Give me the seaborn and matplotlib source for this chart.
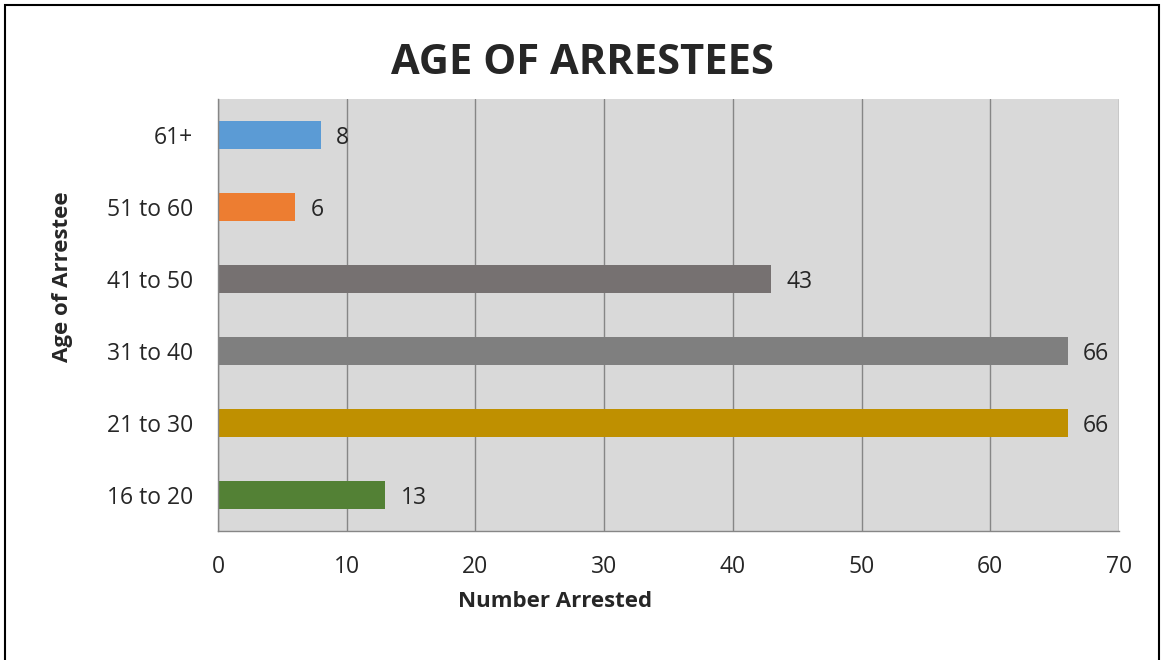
import numpy as np
import pandas as pd
import seaborn as sns
import matplotlib.pyplot as plt
from matplotlib.patches import Rectangle

# Data (top to bottom as shown)
age_groups = ["61+", "51 to 60", "41 to 50", "31 to 40", "21 to 30", "16 to 20"]
arrested = [8, 6, 43, 66, 66, 13]
bar_colors = ["#5B9BD5", "#ED7D31", "#767171", "#7F7F7F", "#BF9000", "#538135"]

df = pd.DataFrame({"age": age_groups, "count": arrested})

sns.set_style("white")
plt.rcParams["font.family"] = ["Open Sans", "DejaVu Sans"]

fig = plt.figure(figsize=(11.64, 6.6), dpi=100)
ax = fig.add_axes([218 / 1164, 1 - 531 / 660, (1119 - 218) / 1164, (531 - 99) / 660])

sns.barplot(
    data=df, x="count", y="age", hue="age", order=age_groups,
    palette=dict(zip(age_groups, bar_colors)), width=0.4,
    legend=False, ax=ax, orient="h", saturation=1, linewidth=0,
)

ax.set_facecolor("#D9D9D9")
ax.set_xlim(0, 70)
ax.set_ylim(len(age_groups) - 0.5, -0.5)
ax.set_xticks(np.arange(0, 71, 10))
ax.xaxis.grid(True, color="#868686", linewidth=1)
ax.set_axisbelow(True)

# tick marks at category boundaries on y
ax.set_yticks(np.arange(len(age_groups)))
ax.set_yticklabels(age_groups)
ax.set_yticks(np.arange(-0.5, len(age_groups), 1), minor=True)
ax.tick_params(axis="y", which="major", length=0, pad=18, labelsize=16.5, labelcolor="#262626")
ax.tick_params(axis="y", which="minor", length=10, width=1, color="#868686", direction="out")
ax.tick_params(axis="x", length=10, width=1, color="#868686", direction="out",
               pad=7, labelsize=16.5, labelcolor="#262626")

for s in ["top", "right"]:
    ax.spines[s].set_visible(False)
for s in ["left", "bottom"]:
    ax.spines[s].set_color("#868686")
    ax.spines[s].set_linewidth(1)

for cont in ax.containers:
    labels = ax.bar_label(cont, padding=11, fontsize=16.5, color="#262626")
    for t in labels:
        t.set_va("center_baseline")

ax.set_xlabel("Number Arrested", fontsize=16, fontweight="bold")
ax.xaxis.set_label_coords((555 - 218) / 901, -60 / 432)
ax.set_ylabel("Age of Arrestee", fontsize=16, fontweight="bold")
ax.yaxis.set_label_coords(-145 / 901, (531 - 277) / 432)
fig.suptitle("AGE OF ARRESTEES", x=582 / 1164, y=1 - 63 / 660, va="center",
             fontsize=30, fontweight="bold")

# outer border
fig.patches.append(Rectangle((5 / 1164, -0.01), 1154 / 1164, 1 - 5 / 660 + 0.01,
                             transform=fig.transFigure, fill=False,
                             edgecolor="black", linewidth=1.5))

fig.savefig("out.png", dpi=100)
